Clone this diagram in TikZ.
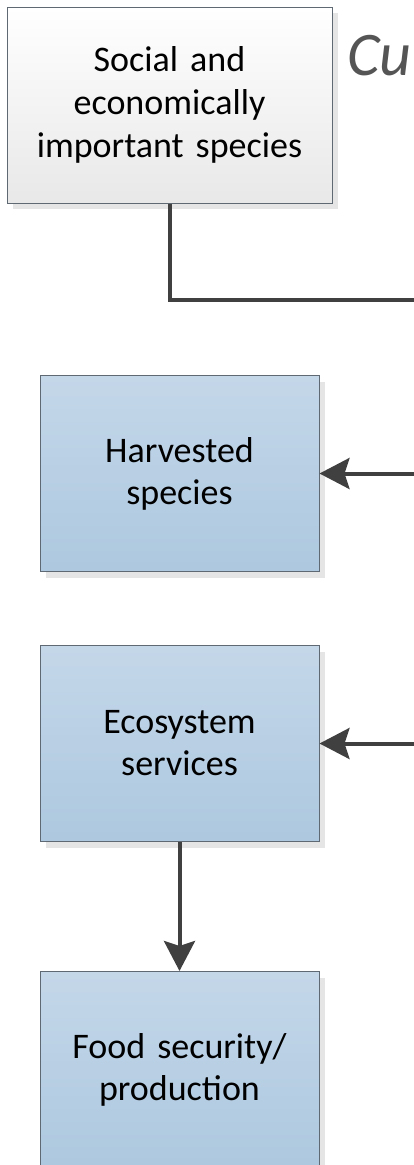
\documentclass[tikz,border=0pt]{standalone}
\usepackage{fontspec}
\setmainfont{Carlito}
\usepackage{tikz}
\usetikzlibrary{arrows.meta, positioning, shadows, calc}
\definecolor{boxline}{RGB}{95,105,115}
\definecolor{bluetop}{RGB}{196,215,233}
\definecolor{bluebot}{RGB}{173,200,223}
\definecolor{linegray}{RGB}{64,64,64}
\definecolor{titlegray}{RGB}{85,85,85}
\tikzstyle{source} = [rectangle, minimum width=325pt, minimum height=196pt, text width=300pt, align=center, draw=boxline, line width=1pt, top color=white, bottom color=black!9, drop shadow={shadow xshift=6pt, shadow yshift=-6pt, fill=black!10, opacity=1}, font=\fontsize{36}{43}\selectfont]
\tikzstyle{bluebox} = [rectangle, minimum width=279pt, minimum height=196pt, text width=260pt, align=center, draw=boxline, line width=1pt, top color=bluetop, bottom color=bluebot, drop shadow={shadow xshift=6pt, shadow yshift=-6pt, fill=black!10, opacity=1}, font=\fontsize{36}{42}\selectfont]
\tikzstyle{line} = [line width=4pt, draw=linegray]
\tikzstyle{arrow} = [line width=4pt, draw=linegray, -{Stealth[length=30pt, width=31pt, inset=5pt]}]

\begin{document}
\begin{tikzpicture}
    \useasboundingbox (0,0) rectangle (414pt,-1165pt);
    \node (social) [source] at (169.5pt,-105pt) {Social and\\economically\\important species};
    \node (harvested) [bluebox] at (179.5pt,-473.5pt) {Harvested\\species};
    \node (ecosystem) [bluebox, below=73pt of harvested] {Ecosystem\\services};
    \node (food) [bluebox, below=129pt of ecosystem] {Food security/\\production};
    % title, cut off at the right edge
    \node (title) [anchor=base west, inner sep=0pt, text=titlegray, font=\fontsize{62}{70}\selectfont\itshape] at (347pt,-75pt) {Cu};

    \coordinate (trunk) at (416pt,-300pt);
    \draw [line] (social.south) |- (trunk) -- (trunk |- ecosystem);
    \draw [arrow] (trunk |- harvested) -- (harvested.east);
    \draw [arrow] (trunk |- ecosystem) -- (ecosystem.east);
    \draw [arrow] (ecosystem) -- (food);
\end{tikzpicture}
\end{document}
